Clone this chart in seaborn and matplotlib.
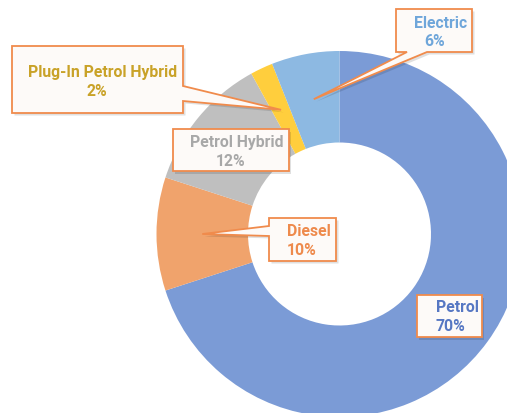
import numpy as np
import matplotlib
matplotlib.use("Agg")
import matplotlib.pyplot as plt
import seaborn as sns
from matplotlib.patches import Polygon

# ---- data ----
categories = ["Petrol", "Diesel", "Petrol Hybrid", "Plug-In Petrol Hybrid", "Electric"]
shares = [70, 10, 12, 2, 6]
pct_labels = ["70%", "10%", "12%", "2%", "6%"]
colors = ["#7B9BD6", "#F0A36C", "#BFBFBF", "#FFCE3D", "#8DB9E2"]
text_colors = ["#5677C3", "#EE8A4C", "#A8A8A8", "#C9A228", "#6FA6DA"]

sns.set_theme(style="white")
plt.rcParams["font.family"] = ["Roboto", "DejaVu Sans"]

W, H = 507, 414
fig = plt.figure(figsize=(W / 100, H / 100), dpi=100)
ax = fig.add_axes([0, 0, 1, 1])

CX, CY, R = 339.5, 235.0, 183.0  # pie centre / radius in pixels


def p2d(x, y):
    return ((x - CX) / R, (CY - y) / R)


wedges, _ = ax.pie(shares, colors=colors, startangle=90, counterclock=False,
                   radius=1, wedgeprops=dict(width=0.5, edgecolor="none"))
x0, y0 = p2d(0, H)
x1, y1 = p2d(W, 0)
ax.set_xlim(x0, x1)
ax.set_ylim(y0, y1)
ax.set_aspect("auto")
ax.axis("off")

# layout of callout boxes (pixels): box, tail edge, tail base, line centres
layout = {
    "Electric": dict(box=(396, 10, 472, 53), tail=("bottom", 407, 427),
                     lines=[(441, 24), (435, 42)]),
    "Plug-In Petrol Hybrid": dict(box=(12, 47, 183, 114), tail=("right", 87, 102),
                                  lines=[(103, 72), (97, 91)]),
    "Petrol Hybrid": dict(box=(173, 130, 289, 172), tail=None,
                          lines=[(237, 143), (231, 161)]),
    "Diesel": dict(box=(269, 219, 336, 262), tail=("left", 227, 237),
                   lines=[(309, 232), (302, 251)]),
    "Petrol": dict(box=(417, 296, 482, 338), tail=None,
                   lines=[(457, 308), (450, 327)]),
}


def callout_pts(box, tail, tip):
    bx0, by0, bx1, by1 = box
    if tail is None:
        return [(bx0, by0), (bx1, by0), (bx1, by1), (bx0, by1)]
    a, b = tail[1], tail[2]
    if tail[0] == "bottom":
        return [(bx0, by0), (bx1, by0), (bx1, by1), (b, by1), tip, (a, by1), (bx0, by1)]
    if tail[0] == "right":
        return [(bx0, by0), (bx1, by0), (bx1, a), tip, (bx1, b), (bx1, by1), (bx0, by1)]
    return [(bx0, by0), (bx1, by0), (bx1, by1), (bx0, by1), (bx0, b), tip, (bx0, a)]


for i, (cat, w) in enumerate(zip(categories, wedges)):
    lay = layout[cat]
    mid = np.deg2rad((w.theta1 + w.theta2) / 2)
    tipd = (0.75 * np.cos(mid), 0.75 * np.sin(mid))
    tip = (CX + tipd[0] * R, CY - tipd[1] * R)
    pts = callout_pts(lay["box"], lay["tail"], tip)
    shadow = [p2d(x + 2.5, y + 2.5) for x, y in pts]
    ax.add_patch(Polygon(shadow, closed=True, facecolor="#000000", alpha=0.12,
                         edgecolor="none", zorder=4))
    ax.add_patch(Polygon([p2d(x, y) for x, y in pts], closed=True,
                         facecolor="#FDFAF8", edgecolor="#F08B4C",
                         linewidth=1.3, joinstyle="miter", zorder=5))
    for (lx, ly), txt in zip(lay["lines"], [cat, pct_labels[i]]):
        tx, ty = p2d(lx, ly)
        ax.text(tx, ty, txt, ha="center", va="center", fontsize=11.3,
                fontweight="bold", color=text_colors[i], zorder=6)

fig.savefig("out.png", dpi=100)
